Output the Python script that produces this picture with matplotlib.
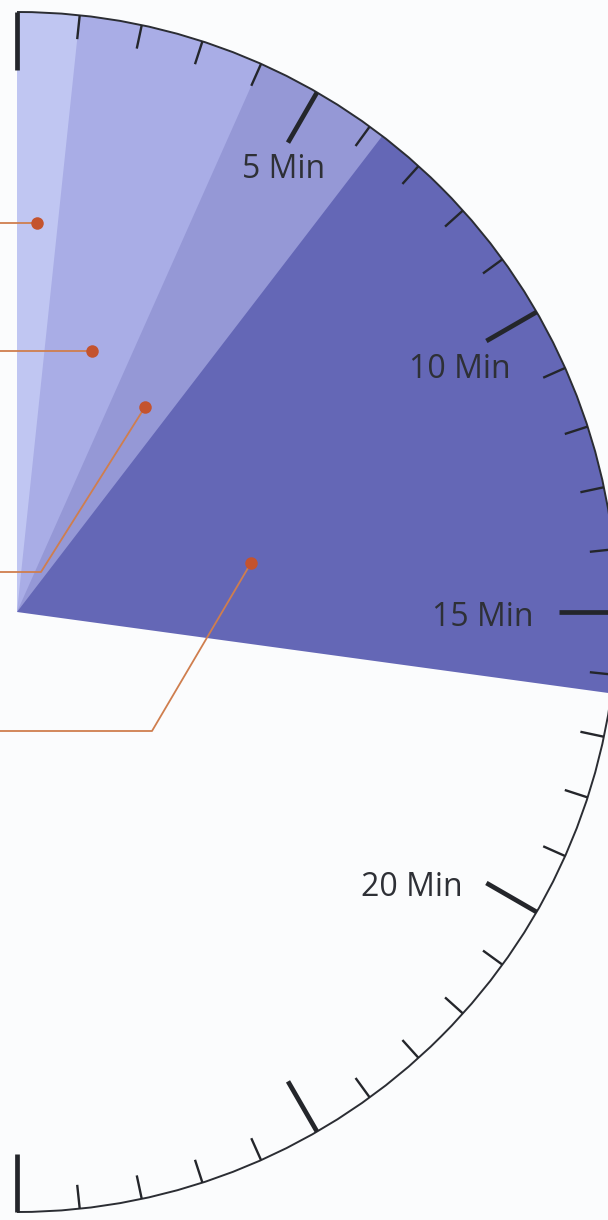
import matplotlib
matplotlib.use('Agg')
import matplotlib.pyplot as plt
from matplotlib.patches import Wedge, Arc
import numpy as np

# ---------- data ----------
# cumulative end time of each wedge (minutes, measured clockwise from 12 o'clock)
wedge_end_min = [1.0, 4.0, 6.25, 16.3]
wedge_colors = ['#C0C6F2', '#A9ADE6', '#9598D6', '#6467B6']

# annotation dots (position in minutes / radius in px)
dot_min = [0.49, 2.67, 5.33, 13.03]
dot_r = [390, 272, 242, 239]

major_labels = ['5 Min', '10 Min', '15 Min', '20 Min']
major_label_min = [5, 10, 15, 20]

total_min = 30

# ---------- layout ----------
W, H = 608, 1220
CX, CY = 17, 608
R = 600


def polar(m, r):
    th = np.radians(90 - 6 * m)
    return CX + r * np.cos(th), CY + r * np.sin(th)


fig = plt.figure(figsize=(W / 100, H / 100), dpi=100)
fig.patch.set_facecolor('#FBFCFD')
ax = fig.add_axes([0, 0, 1, 1])
ax.set_xlim(0, W)
ax.set_ylim(0, H)
ax.set_aspect('equal')
ax.axis('off')

# wedges, biggest first so smaller ones sit on top
for end, col in sorted(zip(wedge_end_min, wedge_colors), reverse=True):
    ax.add_patch(Wedge((CX, CY), R, 90 - 6 * end, 90, facecolor=col,
                       edgecolor='none', zorder=1))

# outer rim
ax.add_patch(Arc((CX, CY), 2 * R, 2 * R, theta1=-90, theta2=90,
                 color='#2B2D33', lw=1.4, zorder=3))

# minute ticks
for m in range(total_min + 1):
    if m % 5 == 0:
        ln, lw = 58, 3.4
    else:
        ln, lw = 24, 1.7
    x0, y0 = polar(m, R)
    x1, y1 = polar(m, R - ln)
    ax.plot([x0, x1], [y0, y1], color='#24262B', lw=lw,
            solid_capstyle='butt', zorder=4)

# labels (centres in picture px)
label_pos = {5: (284, 170), 10: (460, 370), 15: (483, 617), 20: (412, 888)}
for txt, m in zip(major_labels, major_label_min):
    px, py = label_pos[m]
    ax.text(px, H - py, txt, ha='center', va='center', fontsize=23,
            family='Open Sans', color='#2E3036', zorder=5)

# leader lines + dots
elbows = [None, None, (41, H - 572), (152, H - 731)]
for m, r, el in zip(dot_min, dot_r, elbows):
    dx, dy = polar(m, r)
    if el is None:
        xs, ys = [dx, 0], [dy, dy]
    else:
        xs, ys = [dx, el[0], 0], [dy, el[1], el[1]]
    ax.plot(xs, ys, color='#CF7E4E', lw=1.3, zorder=6)
    ax.plot(dx, dy, 'o', color='#C4532E', ms=9, mec='none', zorder=7)

plt.savefig('out.png', dpi=100, facecolor=fig.get_facecolor())
plt.close()
